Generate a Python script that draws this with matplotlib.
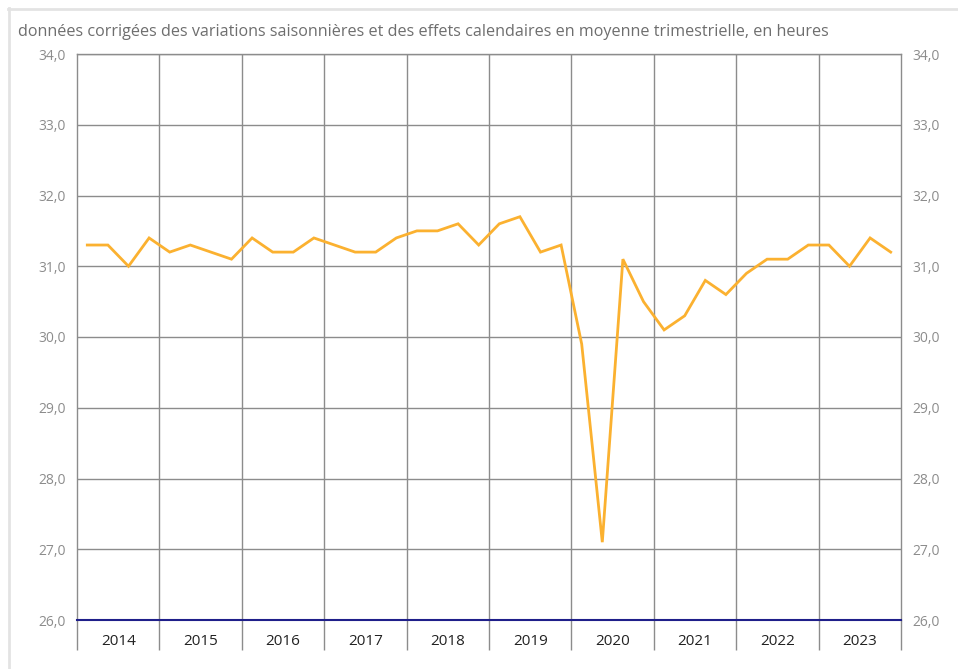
import numpy as np
import matplotlib
matplotlib.use("Agg")
import matplotlib.pyplot as plt
from matplotlib.lines import Line2D

plt.rcParams['font.family'] = ['Open Sans', 'DejaVu Sans']

#---------------------
# data
#---------------------
years = ['2014', '2015', '2016', '2017', '2018', '2019', '2020', '2021', '2022', '2023']
heures = [31.3, 31.3, 31.0, 31.4,
          31.2, 31.3, 31.2, 31.1,
          31.4, 31.2, 31.2, 31.4,
          31.3, 31.2, 31.2, 31.4,
          31.5, 31.5, 31.6, 31.3,
          31.6, 31.7, 31.2, 31.3,
          29.9, 27.1, 31.1, 30.5,
          30.1, 30.3, 30.8, 30.6,
          30.9, 31.1, 31.1, 31.3,
          31.3, 31.0, 31.4, 31.2]
yticks = [26, 27, 28, 29, 30, 31, 32, 33, 34]
title = "données corrigées des variations saisonnières et des effets calendaires en moyenne trimestrielle, en heures"

W, H = 958, 669
fig = plt.figure(figsize=(W / 100, H / 100), dpi=100)
ax = fig.add_axes([77 / W, 1 - 620 / H, (901 - 77) / W, (620 - 54) / H])

grid_col = '#8c8c8c'
x = np.arange(len(heures)) + 0.5
ax.plot(x, heures, color='#fbb130', lw=2, zorder=3, solid_joinstyle='miter')

ax.set_xlim(0, len(heures))
ax.set_ylim(26, 34)

# axe des y des deux côtés
ax.set_yticks(yticks)
ax.yaxis.set_major_formatter(matplotlib.ticker.FuncFormatter(lambda v, p: ('%.1f' % v).replace('.', ',')))
ax.tick_params(axis='y', length=0, pad=8, labelsize=10, labelcolor='#8c8c8c',
               left=True, right=True, labelleft=True, labelright=True)
ax.grid(axis='y', color=grid_col, lw=1, zorder=1)

# séparateurs d'années + libellés centrés
bounds = np.arange(0, len(heures) + 1, 4)
ax.set_xticks(bounds)
ax.set_xticklabels([])
ax.set_xticks(bounds[:-1] + 2, minor=True)
ax.set_xticklabels(years, minor=True)
ax.tick_params(axis='x', which='major', length=21.5, width=1, color=grid_col)
ax.tick_params(axis='x', which='minor', length=0, pad=10, labelsize=11, labelcolor='#222222')
for b in bounds[1:-1]:
    ax.axvline(b, color=grid_col, lw=1, zorder=1)

for s in ['left', 'right', 'top']:
    ax.spines[s].set_color(grid_col)
    ax.spines[s].set_linewidth(1)
ax.spines['bottom'].set_color('#1f1f8a')
ax.spines['bottom'].set_linewidth(1.5)
ax.spines['bottom'].set_zorder(4)

fig.text(18 / W, 1 - 32 / H, title, ha='left', va='center', fontsize=11.65, color='#6e6e6e')

# cadre clair
fig.add_artist(Line2D([8.5 / W, 8.5 / W], [0, 1 - 8 / H], color='#e3e3e3', lw=2, transform=fig.transFigure))
fig.add_artist(Line2D([8 / W, 1], [1 - 8.5 / H, 1 - 8.5 / H], color='#e3e3e3', lw=2, transform=fig.transFigure))

fig.savefig('out.png', dpi=100)
